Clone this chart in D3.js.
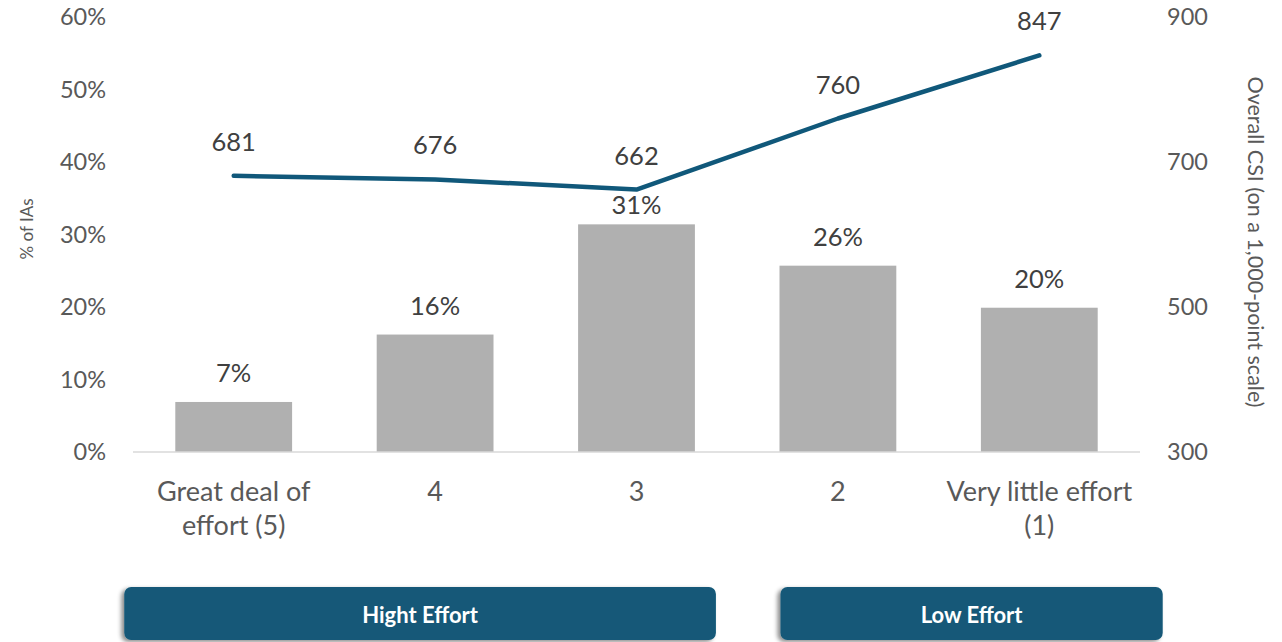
<!DOCTYPE html>
<html>
<head>
<meta charset="utf-8">
<script src="https://cdn.jsdelivr.net/npm/d3@7"></script>
<style>
  html, body { margin: 0; padding: 0; background: #fff; }
  svg { display: block; font-family: Lato, "Open Sans", sans-serif; }
</style>
</head>
<body>
<svg id="chart" width="1282" height="642"></svg>
<script>
// Effort categories (x axis)
const categories = [["Great deal of", "effort (5)"], ["4"], ["3"], ["2"], ["Very little effort", "(1)"]];
// Share of IAs per effort level (bars, left axis)
const shareIAs = [0.069, 0.162, 0.314, 0.257, 0.199];
// Overall CSI per effort level (line, right axis)
const csiScores = [681, 676, 662, 760, 847];
// Axis ticks
const leftTicks = [0, 0.1, 0.2, 0.3, 0.4, 0.5, 0.6];
const rightTicks = [300, 500, 700, 900];
// Grouping boxes under the axis: first and last category covered
const groupLabels = ["Hight Effort", "Low Effort"];
const groupFrom = [0, 3];
const groupTo = [2, 4];

const svg = d3.select("#chart");
const plot = { left: 133, right: 1140, top: 17, bottom: 452 };

const x = d3.scaleBand()
  .domain(d3.range(categories.length))
  .range([plot.left, plot.right])
  .paddingInner(0.42)
  .paddingOuter(0.21);

const yL = d3.scaleLinear().domain([0, 0.6]).range([plot.bottom, plot.top]);
const yR = d3.scaleLinear().domain([300, 900]).range([plot.bottom, plot.top]);

const defs = svg.append("defs");
const shadow = defs.append("filter").attr("id", "boxShadow")
  .attr("x", "-5%").attr("y", "-20%").attr("width", "110%").attr("height", "150%");
shadow.append("feDropShadow")
  .attr("dx", -3).attr("dy", 2).attr("stdDeviation", 2.2)
  .attr("flood-color", "#000").attr("flood-opacity", 0.45);

// Left axis (percent)
const axL = svg.append("g")
  .attr("transform", `translate(${plot.left},0)`)
  .call(d3.axisLeft(yL).tickValues(leftTicks).tickFormat(d3.format(".0%")).tickSize(0).tickPadding(27));
axL.select(".domain").remove();
axL.selectAll("text").attr("font-size", 23.5).attr("fill", "#595959").attr("font-family", "Lato, sans-serif");

// Right axis (CSI)
const axR = svg.append("g")
  .attr("transform", `translate(${plot.right},0)`)
  .call(d3.axisRight(yR).tickValues(rightTicks).tickSize(0).tickPadding(27));
axR.select(".domain").remove();
axR.selectAll("text").attr("font-size", 23.5).attr("fill", "#595959").attr("font-family", "Lato, sans-serif");

// Axis titles
svg.append("text")
  .attr("transform", `translate(26,229) rotate(-90)`)
  .attr("text-anchor", "middle").attr("dominant-baseline", "central")
  .attr("font-size", 17).attr("fill", "#595959")
  .text("% of IAs");
svg.append("text")
  .attr("transform", `translate(1256,242) rotate(90)`)
  .attr("text-anchor", "middle").attr("dominant-baseline", "central")
  .attr("font-size", 21.5).attr("fill", "#595959")
  .text("Overall CSI (on a 1,000-point scale)");

// Bars
svg.append("g").selectAll("rect")
  .data(shareIAs)
  .join("rect")
  .attr("x", (d, i) => x(i))
  .attr("width", x.bandwidth())
  .attr("y", d => yL(d))
  .attr("height", d => yL(0) - yL(d))
  .attr("fill", "#b0b0b0");

// Baseline
svg.append("line")
  .attr("x1", plot.left).attr("x2", plot.right)
  .attr("y1", plot.bottom).attr("y2", plot.bottom)
  .attr("stroke", "#d9d9d9").attr("stroke-width", 1.5);

// CSI line
const cx = i => x(i) + x.bandwidth() / 2;
svg.append("path")
  .datum(csiScores)
  .attr("d", d3.line().x((d, i) => cx(i)).y(d => yR(d)))
  .attr("fill", "none")
  .attr("stroke", "#10587a")
  .attr("stroke-width", 4.5)
  .attr("stroke-linecap", "round")
  .attr("stroke-linejoin", "round");

// Bar value labels (kept clear of the line)
svg.append("g").selectAll("text")
  .data(shareIAs)
  .join("text")
  .attr("x", (d, i) => cx(i))
  .attr("y", (d, i) => Math.max(yL(d) - 30, yR(csiScores[i]) + 14))
  .attr("text-anchor", "middle").attr("dominant-baseline", "central")
  .attr("font-size", 25.5).attr("fill", "#404040")
  .text(d => d3.format(".0%")(d));

// Line value labels
svg.append("g").selectAll("text")
  .data(csiScores)
  .join("text")
  .attr("x", (d, i) => cx(i))
  .attr("y", d => yR(d) - 35)
  .attr("text-anchor", "middle").attr("dominant-baseline", "central")
  .attr("font-size", 25.5).attr("fill", "#404040")
  .text(d => d);

// Category labels
const catG = svg.append("g").selectAll("text")
  .data(categories)
  .join("text")
  .attr("x", (d, i) => cx(i))
  .attr("y", 490)
  .attr("text-anchor", "middle")
  .attr("dominant-baseline", "central")
  .attr("font-size", 27).attr("fill", "#595959");
catG.selectAll("tspan")
  .data(d => d)
  .join("tspan")
  .attr("x", function () { return d3.select(this.parentNode).attr("x"); })
  .attr("dy", (d, j) => j === 0 ? 0 : 34)
  .text(d => d);

// Group boxes: spans from the first to the last covered band, widened a little
const padLeft = [51, -1];
const padRight = [21, 65];
const boxX0 = (i) => x(groupFrom[i]) - padLeft[i];
const boxX1 = (i) => x(groupTo[i]) + x.bandwidth() + padRight[i];
const boxes = svg.append("g").selectAll("g")
  .data(groupLabels)
  .join("g");
boxes.append("rect")
  .attr("x", (d, i) => boxX0(i))
  .attr("width", (d, i) => boxX1(i) - boxX0(i))
  .attr("y", 587).attr("height", 53)
  .attr("rx", 7)
  .attr("fill", "#125878")
  .attr("filter", "url(#boxShadow)");
boxes.append("text")
  .attr("x", (d, i) => (boxX0(i) + boxX1(i)) / 2)
  .attr("y", 614)
  .attr("text-anchor", "middle").attr("dominant-baseline", "central")
  .attr("font-size", 22).attr("font-weight", "bold").attr("fill", "#fff")
  .text(d => d);
</script>
</body>
</html>
